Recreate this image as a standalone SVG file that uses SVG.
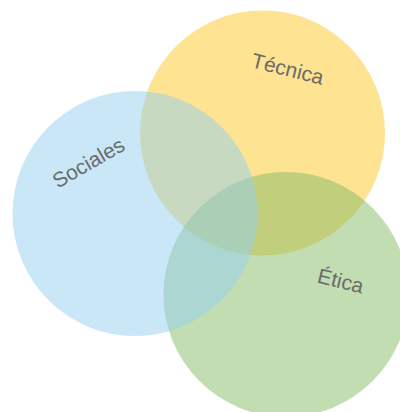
<svg xmlns="http://www.w3.org/2000/svg" width="400" height="412" viewBox="0 0 400 412">
<style>
.c{opacity:0.5}
.t{font-family:"Liberation Sans",Arial,sans-serif;font-size:21px;fill:#6b6b6b;text-anchor:middle}
</style>
<rect width="400" height="412" fill="#ffffff"/>
<g id="tecnica"><circle class="c" cx="262.5" cy="133" r="122.5" fill="#fbc726"/></g>
<g id="etica"><circle class="c" cx="286" cy="294.5" r="122.5" fill="#85bb65"/></g>
<g id="sociales"><circle class="c" cx="135" cy="213.5" r="122.5" fill="#93cfef"/></g>
<g id="labels">
<text class="t" transform="translate(286,76) rotate(14)">Técnica</text>
<text class="t" transform="translate(92,169) rotate(-30)">Sociales</text>
<text class="t" transform="translate(339,288) rotate(14)">Ética</text>
</g>
<g id="connectors"/>
</svg>
